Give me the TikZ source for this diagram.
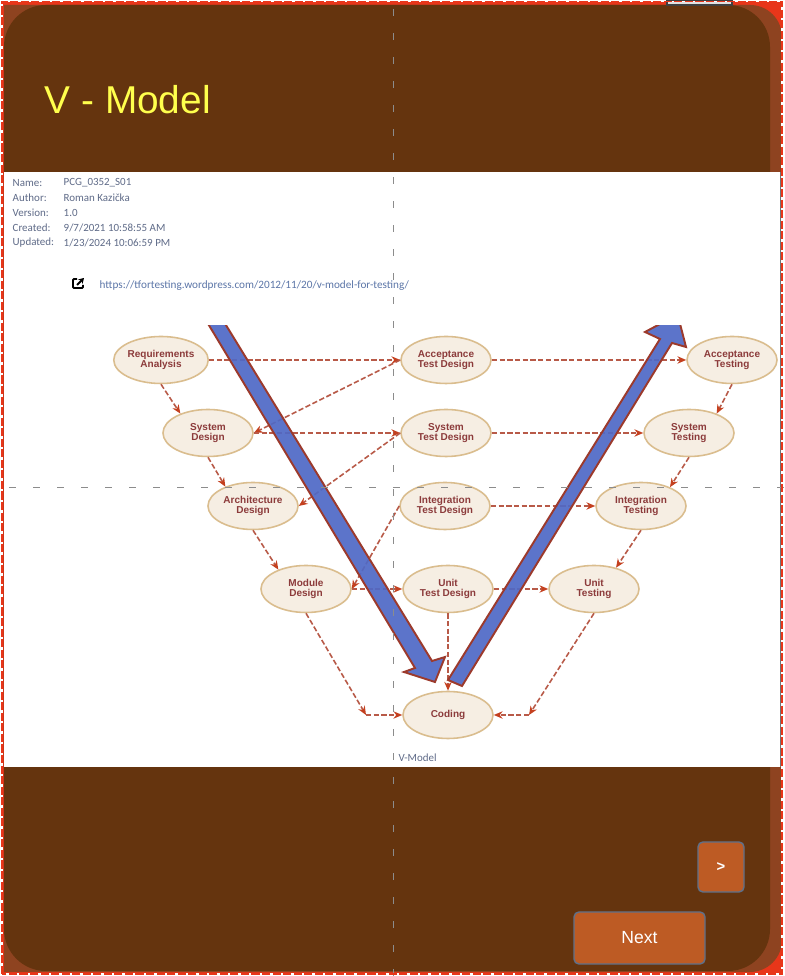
\documentclass[tikz,border=0pt]{standalone}
\usepackage{fontspec}
\setmainfont{Liberation Sans}
\newfontfamily\infofont{Carlito}
\usetikzlibrary{arrows.meta,shapes.geometric}
\definecolor{darkbrown}{HTML}{65340E}
\definecolor{lightbrown}{HTML}{8E4320}
\definecolor{edgered}{HTML}{E8361A}
\definecolor{btnfill}{HTML}{BD5B24}
\definecolor{btnline}{HTML}{5F7089}
\definecolor{infotext}{HTML}{5F6B88}
\definecolor{linktext}{HTML}{5C76A8}
\definecolor{ovalfill}{HTML}{F6EEE3}
\definecolor{ovalline}{HTML}{DABD8E}
\definecolor{ovaltext}{HTML}{8C3B3B}
\definecolor{flowline}{HTML}{B85A48}
\definecolor{flowtip}{HTML}{C4401F}
\definecolor{bigblue}{HTML}{4F69C6}
\definecolor{bigline}{HTML}{9C3A2C}
\tikzset{
  phase/.style={ellipse,draw=ovalline,fill=ovalfill,line width=0.45pt,minimum width=0.90cm,minimum height=0.47cm,
    inner sep=0pt,align=center,text=ovaltext,font=\fontsize{2.85}{3}\selectfont\bfseries},
  flow/.style={draw=flowline,line width=0.45pt,dash pattern=on 1.5pt off 0.7pt,
    -{Stealth[length=2.5pt,width=2.1pt,color=flowtip]}},
  bigarrow/.style={draw=bigline,fill=bigblue,fill opacity=0.92,line width=0.55pt,line join=miter},
  guide/.style={draw=black!45,line width=0.28pt,dash pattern=on 2pt off 4.83pt},
  info/.style={anchor=west,inner sep=0pt,text=infotext,font=\fontsize{3.12}{3.4}\selectfont\infofont},
  button/.style={draw=btnline,fill=btnfill,line width=0.4pt,rounded corners=1.4pt,text=white,inner sep=0pt}
}
\begin{document}
\begin{tikzpicture}
        \useasboundingbox (0,0) rectangle (7.84,9.76);
        % slide background
        \fill[white] (0,0) rectangle (7.84,9.76);
        \fill[edgered] (0.03,0.03) rectangle (7.82,9.74);
        \fill[lightbrown] (0.04,0.04) -- (7.5,0.04) arc (-90:0:0.32) -- (7.82,9.39) arc (0:90:0.32) -- (0.04,9.71) -- cycle;
        \fill[darkbrown,rounded corners=0.42cm] (0.04,0.05) rectangle (7.70,9.71);
        \draw[line width=0.4pt,draw=black!75,fill=black!12] (6.67,9.71) rectangle (7.32,9.76);
        \node[anchor=west,inner sep=0pt,text={rgb,255:red,255;green,255;blue,77},font=\fontsize{11.04}{12}\selectfont] (title) at (0.44,8.76) {V - Model};
        % picture area
        \fill[white] (0.04,2.09) rectangle (7.81,8.04);
        \fill[black!55] (7.80,2.09) rectangle (7.815,8.04);
        \node[info] (nameK) at (0.12,7.93) {Name:};
        \node[info] (nameV) at (0.63,7.93) {PCG\_0352\_S01};
        \node[info] (authorK) at (0.12,7.78) {Author:};
        \node[info] (authorV) at (0.63,7.78) {Roman Kazička};
        \node[info] (versionK) at (0.12,7.63) {Version:};
        \node[info] (versionV) at (0.63,7.63) {1.0};
        \node[info] (createdK) at (0.12,7.48) {Created:};
        \node[info] (createdV) at (0.63,7.48) {9/7/2021 10:58:55 AM};
        \node[info] (updatedK) at (0.12,7.33) {Updated:};
        \node[info] (updatedV) at (0.63,7.33) {1/23/2024 10:06:59 PM};
        \node[info,text=linktext,font=\fontsize{3.19}{3.4}\selectfont\infofont] (link) at (0.99,6.90) {https://tfortesting.wordpress.com/2012/11/20/v-model-for-testing/};
        \node[info] (caption) at (3.98,2.18) {V-Model};
        % link icon
        \draw[line width=0.55pt,rounded corners=0.3pt] (0.77,6.97) -- (0.73,6.97) -- (0.73,6.88) -- (0.83,6.88) -- (0.83,6.91);
        \draw[line width=0.55pt,-{Stealth[length=1.5pt,width=1.8pt]}] (0.77,6.91) -- (0.84,6.98);
        % phases
        \node[phase] (reqAna) at (1.61,6.16) {Requirements\\Analysis};
        \node[phase] (sysDes) at (2.08,5.43) {System\\Design};
        \node[phase] (archDes) at (2.53,4.70) {Architecture\\Design};
        \node[phase] (modDes) at (3.06,3.87) {Module\\Design};
        \node[phase] (accTD) at (4.46,6.16) {Acceptance\\Test Design};
        \node[phase] (sysTD) at (4.46,5.43) {System\\Test Design};
        \node[phase] (intTD) at (4.45,4.70) {Integration\\Test Design};
        \node[phase] (unitTD) at (4.48,3.87) {Unit\\Test Design};
        \node[phase] (coding) at (4.48,2.61) {Coding};
        \node[phase] (unitT) at (5.94,3.87) {Unit\\Testing};
        \node[phase] (intT) at (6.41,4.70) {Integration\\Testing};
        \node[phase] (sysT) at (6.89,5.43) {System\\Testing};
        \node[phase] (accT) at (7.32,6.16) {Acceptance\\Testing};
        \coordinate (kinkL) at (3.66,2.61);
        \coordinate (kinkR) at (5.29,2.61);
        % dashed links
        \draw[flow] (reqAna.270) -- (sysDes.145);
        \draw[flow] (sysDes.270) -- (archDes.145);
        \draw[flow] (archDes.270) -- (modDes.145);
        \draw[flow] (reqAna.0) -- (accTD.180);
        \draw[flow] (accTD.180) -- (sysDes.0);
        \draw[flow] (sysDes.0) -- (sysTD.180);
        \draw[flow] (sysTD.180) -- (archDes.0);
        \draw[flow] (intTD.180) -- (modDes.0);
        \draw[flow] (modDes.0) -- (unitTD.180);
        \draw[flow] (accTD.0) -- (accT.180);
        \draw[flow] (sysTD.0) -- (sysT.180);
        \draw[flow] (intTD.0) -- (intT.180);
        \draw[flow] (unitTD.0) -- (unitT.180);
        \draw[flow] (accT.270) -- (sysT.35);
        \draw[flow] (sysT.270) -- (intT.33);
        \draw[flow] (intT.270) -- (unitT.44);
        \draw[flow] (unitTD.270) -- (coding.90);
        \draw[flow] (modDes.270) -- (kinkL);
        \draw[flow] (kinkL) -- (coding.180);
        \draw[flow] (unitT.270) -- (kinkR);
        \draw[flow] (kinkR) -- (coding.0);
        % big arrows, cut off at the top of the image
        \begin{scope}
                \clip (0,0) rectangle (7.84,6.50);
                \draw[bigarrow] (2.04,6.59) -- (2.21,6.59) -- (4.32,3.15) -- (4.45,3.19) -- (4.35,2.94) -- (4.04,3.04) -- (4.15,3.08) -- cycle;
                \draw[bigarrow] (4.48,2.96) -- (4.62,2.90) -- (6.72,6.33) -- (6.86,6.29) -- (6.78,6.60) -- (6.75,6.60) -- (6.45,6.44) -- (6.60,6.37) -- cycle;
        \end{scope}
        % buttons
        \node[button,minimum width=0.46cm,minimum height=0.50cm,font=\fontsize{4.2}{5}\selectfont\bfseries] (nextPage) at (7.21,1.09) {>};
        \node[button,minimum width=1.31cm,minimum height=0.52cm,font=\fontsize{5}{6}\selectfont] (nextBtn) at (6.395,0.38) {Next};
        % guides
        \draw[guide] (3.93,9.67) -- (3.93,0);
        \draw[guide] (0.09,4.88) -- (7.84,4.88);
        % selection frame
        \draw[white,line width=0.55pt] (0.02,0.02) rectangle (7.82,9.745);
        \draw[edgered,line width=0.55pt,dash pattern=on 2.3pt off 0.7pt] (0.02,0.02) rectangle (7.82,9.745);
\end{tikzpicture}
\end{document}
